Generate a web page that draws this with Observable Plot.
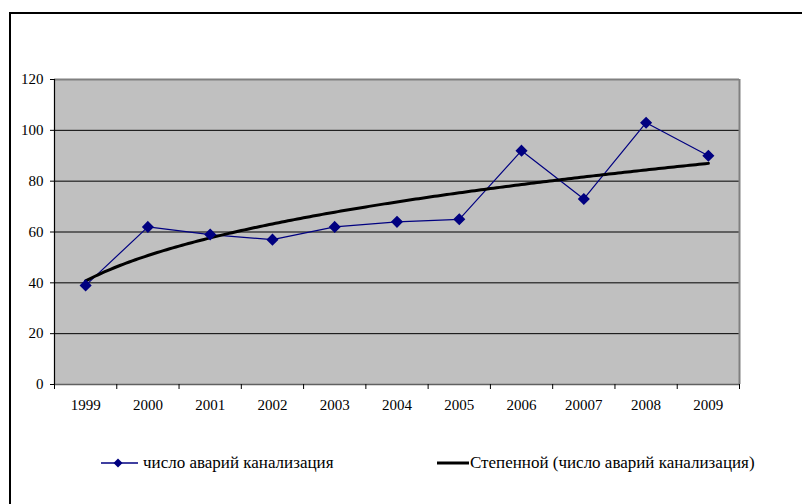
<!DOCTYPE html>
<html>
<head>
<meta charset="utf-8">
<script src="https://cdn.jsdelivr.net/npm/d3@7"></script>
<script src="https://cdn.jsdelivr.net/npm/@observablehq/plot@0.6"></script>
<style>
  html, body { margin: 0; padding: 0; background: #fff; overflow: hidden; }
  #wrap { position: relative; width: 802px; height: 504px; overflow: hidden; font-family: "Liberation Serif", "Times New Roman", serif; }
  #frame { position: absolute; left: 9px; top: 12px; width: 900px; height: 600px; border: 2px solid #000; box-sizing: border-box; }
  #chart { position: absolute; left: 0; top: 0; }
  .leg { position: absolute; top: 453px; height: 20px; display: flex; align-items: center; font-size: 17px; color: #000; white-space: nowrap; }
</style>
</head>
<body>
<div id="wrap">
  <div id="frame"></div>
  <div id="chart"></div>
  <div class="leg" style="left:101px">
    <svg width="37" height="20"><line x1="0" x2="37" y1="10" y2="10" stroke="#000080" stroke-width="1.5"/><path d="M17,5.5L21.5,10L17,14.5L12.5,10Z" fill="#000080"/></svg>
    <span style="margin-left:5px">число аварий канализация</span>
  </div>
  <div class="leg" style="left:437px">
    <svg width="32" height="20"><line x1="0" x2="32" y1="10" y2="10" stroke="#000" stroke-width="3"/></svg>
    <span style="margin-left:1px">Степенной (число аварий канализация)</span>
  </div>
</div>
<script>
const years = ["1999", "2000", "2001", "2002", "2003", "2004", "2005", "2006", "20007", "2008", "2009"];
const accidents = [39, 62, 59, 57, 62, 64, 65, 92, 73, 103, 90];
const yTicks = [0, 20, 40, 60, 80, 100, 120];

const data = years.map((label, i) => ({idx: i + 1, label, value: accidents[i]}));

// Power trendline (least squares on ln-ln), as the spreadsheet computes it
const lx = data.map(d => Math.log(d.idx)), ly = data.map(d => Math.log(d.value));
const mx = d3.mean(lx), my = d3.mean(ly);
const b = d3.sum(lx, (v, i) => (v - mx) * (ly[i] - my)) / d3.sum(lx, v => (v - mx) ** 2);
const a = Math.exp(my - b * mx);
const trend = d3.range(1, 11.001, 0.05).map(x => ({x, y: a * Math.pow(x, b)}));

const boundaries = d3.range(0.5, years.length + 0.51, 1);

const chart = Plot.plot({
  width: 802,
  height: 504,
  marginLeft: 54,
  marginRight: 63,
  marginTop: 79,
  marginBottom: 120,
  style: {fontFamily: "'Liberation Serif', 'Times New Roman', serif", fontSize: "15px", color: "#000", background: "transparent", overflow: "visible"},
  x: {type: "linear", domain: [0.5, years.length + 0.5]},
  y: {domain: [0, 120]},
  marks: [
    Plot.frame({fill: "#c0c0c0", stroke: null}),
    Plot.ruleY(yTicks.filter(t => t > 0 && t < 120), {stroke: "#000", strokeWidth: 1}),
    Plot.ruleY([120], {stroke: "#808080", strokeWidth: 2}),
    Plot.ruleX([years.length + 0.5], {stroke: "#808080", strokeWidth: 2}),
    Plot.ruleY([0], {stroke: "#606060", strokeWidth: 1.5}),
    Plot.ruleX([0.5], {stroke: "#000", strokeWidth: 1.2}),
    Plot.axisY({ticks: yTicks, tickSize: 4, tickPadding: 7, tickFormat: d => String(d), label: null, stroke: "#000"}),
    Plot.axisX({ticks: boundaries, tickSize: 5, tickFormat: () => "", label: null, stroke: "#000"}),
    Plot.axisX({ticks: d3.range(1, years.length + 1), tickSize: 0, tickPadding: 15, tickFormat: i => years[i - 1], label: null}),
    Plot.line(data, {x: "idx", y: "value", stroke: "#000080", strokeWidth: 1.2}),
    Plot.line(trend, {x: "x", y: "y", stroke: "#000", strokeWidth: 3, curve: "linear"}),
    Plot.dot(data, {x: "idx", y: "value", symbol: "diamond2", r: 4.5, fill: "#000080", stroke: "#000080"})
  ]
});
document.getElementById("chart").appendChild(chart);
</script>
</body>
</html>
